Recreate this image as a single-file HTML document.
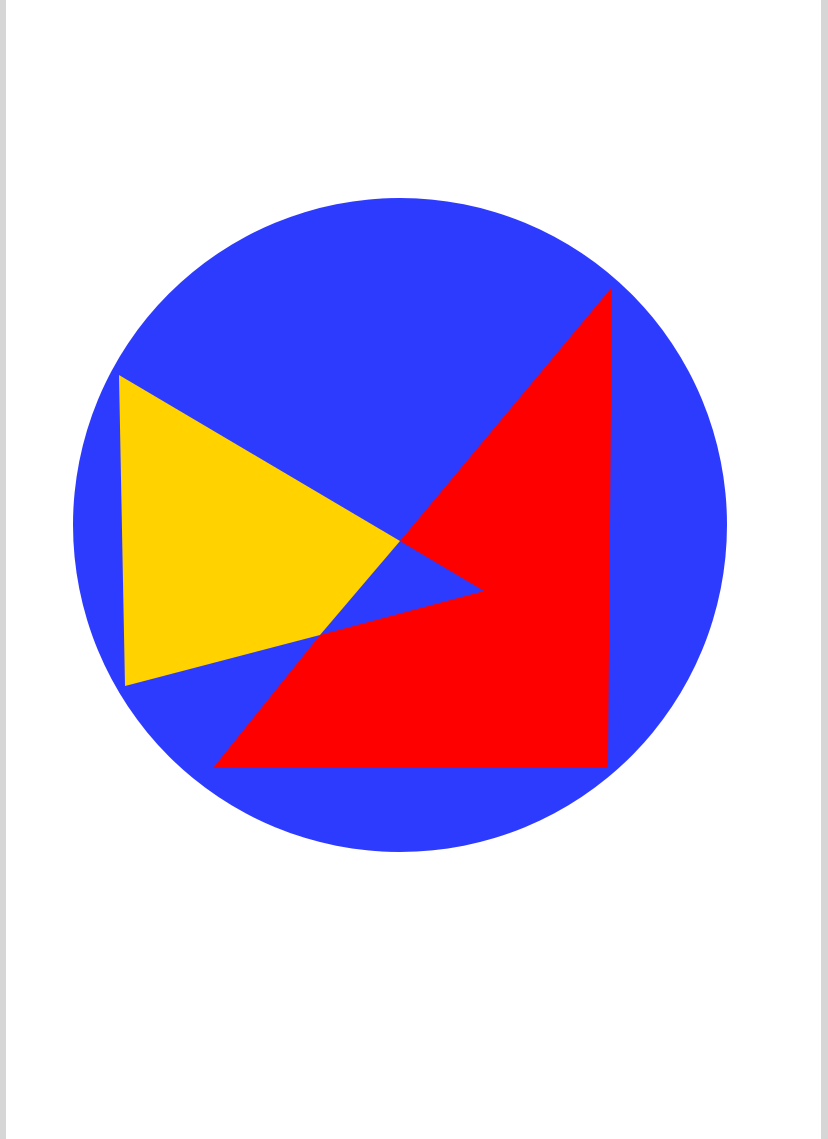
<!DOCTYPE html>
<html><head><meta charset="utf-8"><style>
html,body{margin:0;padding:0;width:828px;height:1139px;overflow:hidden;background:#fff;}
svg{display:block;}
</style></head><body>
<svg width="828" height="1139" viewBox="0 0 828 1139">
<rect x="0" y="0" width="6" height="1139" fill="#d6d6d6"/>
<rect x="821" y="0" width="7" height="1139" fill="#d6d6d6"/>
<circle cx="400" cy="525" r="327" fill="#2d3bff"/>
<polygon points="119,375 400,541 320,635 125,686" fill="#ffd200"/>
<polygon points="612,287 608,768 213,768 320,635 484,591 400,541" fill="#ff0000"/>
</svg>
</body></html>
